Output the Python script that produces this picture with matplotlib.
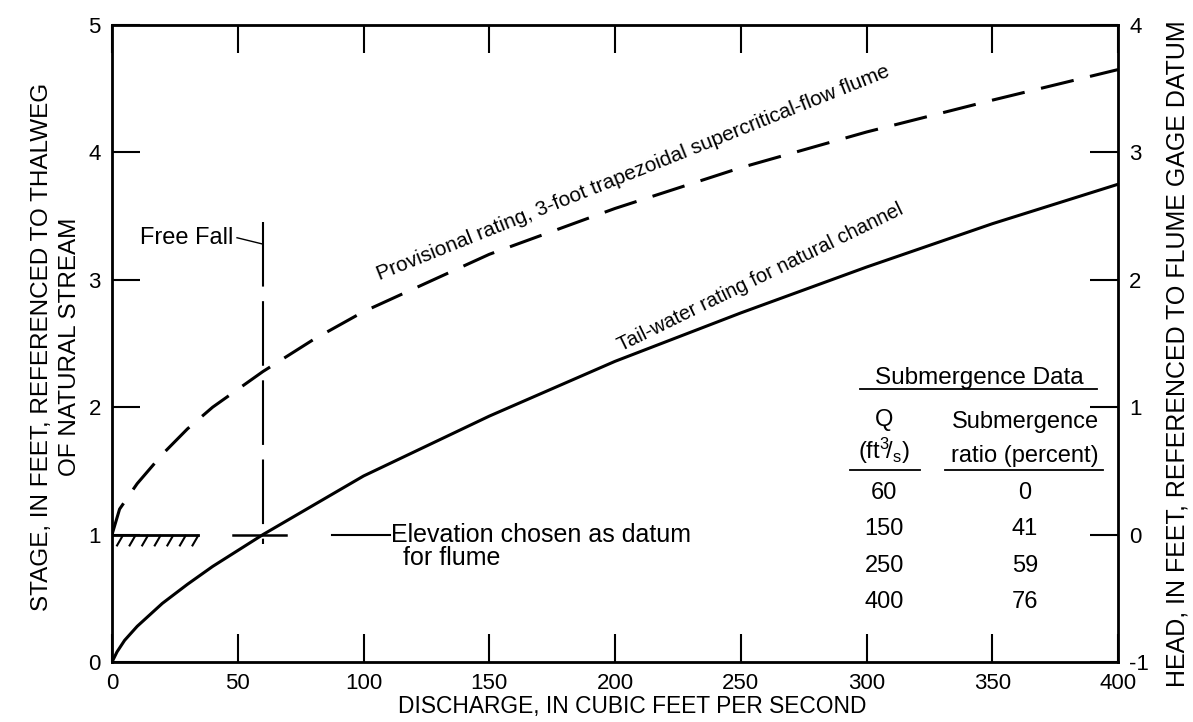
import matplotlib.pyplot as plt

plt.rcParams['font.family'] = ['Liberation Sans', 'DejaVu Sans']
plt.rcParams['mathtext.fontset'] = 'custom'
plt.rcParams['mathtext.rm'] = 'Liberation Sans'
plt.rcParams['mathtext.it'] = 'Liberation Sans:italic'
plt.rcParams['axes.unicode_minus'] = False

# curves (discharge ft3/s, stage ft)
q_tail = [0, 2, 5, 10, 20, 30, 40, 60, 80, 100, 150, 200, 250, 300, 350, 400]
stage_tail = [0, 0.08, 0.17, 0.28, 0.46, 0.61, 0.75, 1.0, 1.23, 1.46, 1.93, 2.36, 2.74, 3.10, 3.44, 3.75]
q_prov = [0, 3, 10, 20, 30, 40, 60, 80, 100, 150, 200, 250, 300, 350, 400]
stage_prov = [1.0, 1.2, 1.40, 1.63, 1.83, 2.0, 2.28, 2.53, 2.75, 3.20, 3.56, 3.88, 4.16, 4.41, 4.65]

# submergence table
table_q = ["60", "150", "250", "400"]
table_ratio = ["0", "41", "59", "76"]

free_fall_q = 60
datum_stage = 1.0

fig = plt.figure(figsize=(11.93, 7.22), dpi=100)
ax = fig.add_axes([0.0939, 0.0831, 0.8433, 0.8823])

ax.plot(q_tail, stage_tail, color='black', lw=2.2)
ax.plot(q_prov, stage_prov, color='black', lw=2.2, dashes=(11, 5.5))

# free fall line (drawn top to bottom so the dash starts at the top)
ax.plot([free_fall_q, free_fall_q], [3.45, 0.93], color='black', lw=1.5, dashes=(31, 7))
ax.plot([48, 69], [datum_stage, datum_stage], color='black', lw=1.8)

# datum mark with hatching
ax.plot([0, 34], [datum_stage, datum_stage], color='black', lw=2)
for i in range(7):
    x0 = 2 + i * 5
    ax.plot([x0, x0 + 2.2], [datum_stage - 0.085, datum_stage - 0.01], color='black', lw=1.5)

ax.plot([87.5, 110.5], [datum_stage, datum_stage], color='black', lw=1.5)
ax.text(111, datum_stage, "Elevation chosen as datum", fontsize=18, ha='left', va='center')
ax.text(115.5, 0.82, "for flume", fontsize=18, ha='left', va='center')

ax.text(11, 3.33, "Free Fall", fontsize=17, ha='left', va='center')
ax.plot([49.7, free_fall_q], [3.33, 3.28], color='black', lw=1)

ax.text(207, 3.84, "Provisional rating, 3-foot trapezoidal supercritical-flow flume",
        fontsize=15, rotation=21.8, rotation_mode='anchor', ha='center', va='center')
ax.text(258, 3.02, "Tail-water rating for natural channel",
        fontsize=14.5, rotation=26, rotation_mode='anchor', ha='center', va='center')

# table
ax.text(345, 2.23, "Submergence Data", fontsize=17.5, ha='center', va='center')
ax.plot([297.4, 391.6], [2.14, 2.14], color='black', lw=1.3)
ax.text(307, 1.90, "Q", fontsize=17, ha='center', va='center')
ax.text(307, 1.66, r"(ft$^{3}\!/_{\mathrm{s}}$)", fontsize=17, ha='center', va='center')
ax.text(363, 1.88, "Submergence", fontsize=17, ha='center', va='center')
ax.text(363, 1.62, "ratio (percent)", fontsize=17, ha='center', va='center')
ax.plot([293.4, 321.3], [1.51, 1.51], color='black', lw=1.3)
ax.plot([331.2, 394], [1.51, 1.51], color='black', lw=1.3)
for i in range(len(table_q)):
    y = 1.33 - i * 0.287
    ax.text(307, y, table_q[i], fontsize=17, ha='center', va='center')
    ax.text(363, y, table_ratio[i], fontsize=17, ha='center', va='center')

ax.set_xlim(0, 400)
ax.set_ylim(0, 5)
ax.set_xticks(range(0, 401, 50))
ax.set_yticks(range(0, 6))
ax.tick_params(direction='in', length=20, width=1.5, top=True, labelsize=16, pad=8)
for s in ax.spines.values():
    s.set_linewidth(2)

ax2 = ax.twinx()
ax2.set_ylim(-1, 4)
ax2.set_yticks(range(-1, 5))
ax2.tick_params(direction='in', length=20, width=1.5, labelsize=16, pad=8)

fig.text(632 / 1193, 1 - 707 / 722, "DISCHARGE, IN CUBIC FEET PER SECOND",
         fontsize=16.4, ha='center', va='center')
fig.text(0.047, 0.52, "STAGE, IN FEET, REFERENCED TO THALWEG\nOF NATURAL STREAM",
         fontsize=17.5, rotation=90, ha='center', va='center', linespacing=1.4)
fig.text(0.987, 0.51, "HEAD, IN FEET, REFERENCED TO FLUME GAGE DATUM",
         fontsize=18, rotation=90, ha='center', va='center')

fig.savefig("out.png", dpi=100)
